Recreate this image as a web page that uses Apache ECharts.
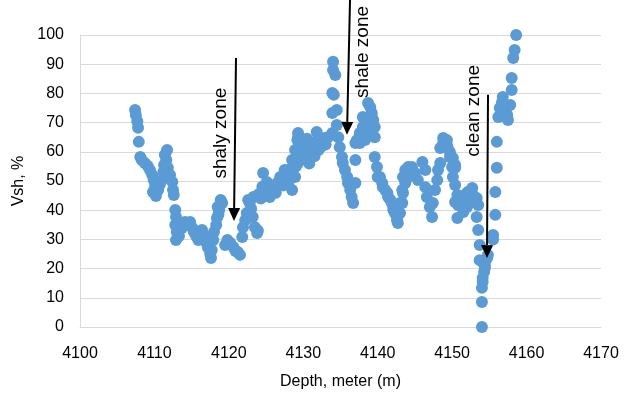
<!DOCTYPE html>
<html>
<head>
<meta charset="utf-8">
<script src="https://cdn.jsdelivr.net/npm/echarts@6/dist/echarts.min.js"></script>
<style>
  html, body { margin: 0; padding: 0; background: #fff; }
  #chart { width: 627px; height: 396px; }
</style>
</head>
<body>
<div id="chart"></div>
<script>
// depth (m) and Vsh (%)
const depth = [
  4107.4, 4107.5, 4107.7, 4107.8, 4107.9, 4108.1, 4108.3, 4108.7, 4109.1, 4109.4,
  4109.7, 4109.9, 4110.1, 4109.8, 4110.2, 4110.5, 4110.7, 4111.0, 4111.2, 4111.3,
  4111.4, 4111.7, 4111.6, 4111.8, 4112.1, 4112.4, 4112.5, 4112.6,
  4112.8, 4112.9, 4112.8, 4113.0, 4112.9, 4113.3, 4113.7, 4114.1, 4114.5, 4114.8,
  4115.1, 4115.3, 4115.6, 4115.9, 4116.1, 4116.4, 4116.7, 4116.9, 4117.2, 4117.5,
  4117.6, 4117.7, 4117.9, 4118.0, 4118.3, 4118.4, 4118.7, 4118.8, 4118.9, 4119.1,
  4118.6, 4118.5,
  4119.8, 4119.5, 4120.2, 4120.6, 4121.2, 4121.5, 4120.9, 4121.8, 4121.9, 4122.2,
  4122.4, 4122.8, 4122.6, 4123.2, 4123.5, 4123.8, 4123.9, 4123.0, 4123.3, 4124.5,
  4124.6, 4125.1, 4125.8, 4126.5, 4126.9, 4127.5, 4127.9, 4128.5, 4128.9, 4129.2,
  4129.3, 4124.0, 4125.0, 4126.0, 4127.0, 4124.3, 4125.5, 4126.3, 4127.3, 4128.2,
  4127.5, 4128.0, 4128.5, 4128.9, 4129.3, 4129.2, 4129.6, 4129.3, 4129.8, 4130.2,
  4130.6, 4131.2, 4131.8, 4132.0, 4132.5, 4132.9, 4133.3, 4133.9, 4130.0, 4130.8,
  4131.5, 4132.0, 4129.0, 4128.2, 4130.5, 4131.0, 4132.3, 4133.0, 4130.3, 4131.3,
  4134.0, 4134.0, 4134.3, 4133.9, 4134.1, 4134.5, 4133.9, 4134.5, 4134.7, 4134.9,
  4135.2, 4135.3, 4135.6, 4135.9, 4136.0, 4136.3, 4136.5, 4136.7, 4137.0, 4137.0,
  4137.2, 4137.6, 4138.0, 4138.6, 4139.0, 4139.2, 4139.4, 4139.6, 4139.6, 4139.0,
  4138.3, 4137.6, 4137.0, 4138.7, 4139.2, 4138.3, 4138.0,
  4139.6, 4139.9, 4140.3, 4140.7, 4141.3, 4141.7, 4142.1, 4142.3, 4142.6, 4142.7,
  4143.0, 4143.3, 4143.4, 4143.7, 4143.9, 4144.1, 4140.0, 4140.6, 4141.0, 4141.4,
  4141.9, 4142.1, 4142.6, 4143.0, 4143.3, 4143.4, 4143.7, 4144.1, 4144.6, 4145.0,
  4145.4, 4146.0, 4146.4, 4146.4, 4146.6, 4147.0, 4147.3, 4147.4, 4147.7, 4148.0,
  4148.1, 4148.4, 4148.4, 4148.8, 4149.3, 4149.4, 4149.7, 4150.0, 4150.1,
  4148.8, 4149.3, 4149.7, 4150.1, 4150.4, 4150.4, 4150.4, 4150.7, 4150.4, 4150.8,
  4150.7, 4151.3, 4151.7, 4152.1, 4152.7, 4152.8, 4152.4, 4152.0, 4151.5, 4153.3,
  4153.5, 4153.3, 4153.5, 4153.7, 4153.7, 4154.1, 4154.4, 4154.3, 4154.1, 4154.0,
  4154.0, 4154.0, 4154.8, 4154.7, 4154.4, 4154.1, 4155.5, 4155.5, 4155.8, 4155.8,
  4156.0, 4156.0, 4156.2, 4156.4, 4156.7, 4156.8, 4157.4, 4157.5, 4157.8, 4157.2,
  4157.0, 4158.0, 4158.0, 4158.2, 4158.4, 4158.6
];
const vsh = [
  74.3, 72.6, 70.5, 68.2, 63.4, 58.2, 57.2, 56.2, 55.1, 53.8,
  52.1, 50.3, 48.3, 46.2, 44.9, 46.9, 48.6, 50.3, 53.1, 55.5,
  58.9, 60.6, 57.2, 54.5, 52.1, 49.7, 46.9, 45.2,
  40.1, 37.7, 34.9, 32.5, 29.8, 31.2, 33.9, 36.0, 34.9, 36.0,
  33.9, 32.5, 31.2, 29.8, 32.5, 33.2, 31.2, 29.1, 27.1, 25.0,
  23.6, 26.4, 29.8, 32.5, 34.9, 37.3, 40.1, 41.8, 43.5, 42.5,
  38.5, 41.1,
  29.8, 28.1, 28.8, 27.4, 25.7, 24.7, 26.0, 30.8, 34.2, 36.6,
  39.0, 42.5, 43.5, 37.7, 34.2, 32.2, 33.0, 40.5, 44.5, 48.0,
  52.7, 49.7, 48.0, 49.3, 51.4, 52.7, 53.8, 57.2, 60.6, 64.0,
  66.4, 45.5, 46.5, 47.0, 50.0, 44.0, 44.5, 46.0, 48.5, 51.0,
  53.8, 49.3, 46.9, 51.4, 56.2, 60.6, 58.2, 65.0, 64.0, 61.6,
  60.6, 63.0, 66.8, 64.0, 63.4, 64.7, 65.0, 66.4, 57.5, 56.0,
  58.5, 60.5, 55.0, 52.0, 64.5, 61.0, 61.5, 62.5, 59.5, 60.0,
  90.8, 88.0, 86.3, 80.1, 79.5, 74.3, 73.3, 69.2, 65.0, 61.6,
  58.2, 56.2, 53.8, 51.4, 49.3, 46.9, 44.5, 42.5, 57.2, 49.3,
  64.0, 66.4, 68.5, 70.9, 75.3, 73.3, 70.9, 68.5, 65.0, 66.4,
  64.0, 63.0, 63.0, 76.7, 71.9, 68.5, 71.9,
  58.2, 54.8, 51.4, 47.9, 45.9, 43.5, 41.1, 39.0, 36.6, 35.6,
  39.0, 42.5, 45.9, 49.3, 52.7, 54.8, 51.4, 49.3, 46.9, 44.5,
  42.5, 40.1, 37.7, 42.5, 46.9, 51.4, 53.8, 51.4, 54.8, 52.7,
  50.3, 56.5, 53.8, 47.9, 44.5, 41.1, 37.7, 42.5, 46.9, 50.3,
  53.8, 56.2, 61.3, 63.0, 64.0, 61.3, 58.2, 54.8, 51.4,
  64.7, 62.3, 59.9, 57.9, 55.5, 54.5, 48.6, 45.2, 42.8, 41.8,
  37.3, 44.2, 45.2, 46.2, 47.6, 45.2, 42.8, 41.1, 39.4, 44.2,
  41.8, 37.7, 33.2, 28.1, 22.9, 22.3, 21.2, 18.8, 16.8, 13.4,
  8.6, 0.0, 24.7, 23.6, 20.2, 15.4, 31.5, 30.0, 38.4, 46.2,
  54.5, 63.4, 71.9, 75.0, 77.0, 78.8, 72.6, 70.9, 76.0, 74.5,
  73.0, 81.2, 85.3, 92.1, 94.9, 100.0
];

// annotations: arrow top / tip and label centre, in data units
const zoneNames = ["shaly zone", "shale zone", "clean zone"];
const arrowTop = [[4120.96, 92.1], [4136.28, 112.0], [4154.82, 79.5]];
const arrowTip = [[4120.69, 36.3], [4135.87, 65.8], [4154.68, 23.6]];
const labelAt = [[4118.9, 66.4], [4138.0, 94.2], [4152.9, 74.0]];

const points = depth.map((d, i) => [d, vsh[i]]);
const font = "Liberation Sans";
const chart = echarts.init(document.getElementById("chart"), null, { renderer: "canvas" });

chart.setOption({
    animation: false,
    backgroundColor: "#fff",
    grid: { left: 80, right: 26, top: 35, bottom: 69 },
    xAxis: {
        type: "value",
        min: 4100,
        max: 4170,
        interval: 10,
        name: "Depth, meter (m)",
        nameLocation: "middle",
        nameGap: 47,
        nameTextStyle: { fontFamily: font, fontSize: 16, color: "#000" },
        axisLine: { show: true, lineStyle: { color: "#D9D9D9", width: 1 } },
        axisTick: { show: false },
        splitLine: { show: false },
        axisLabel: {
            fontFamily: font, fontSize: 16, color: "#000", margin: 19,
            formatter: (v) => String(v),
        },
    },
    yAxis: {
        type: "value",
        min: 0,
        max: 100,
        interval: 10,
        name: "Vsh, %",
        nameLocation: "middle",
        nameGap: 52,
        nameTextStyle: { fontFamily: font, fontSize: 16, color: "#000" },
        axisLine: { show: true, lineStyle: { color: "#D9D9D9", width: 1 } },
        axisTick: { show: false },
        splitLine: { show: true, lineStyle: { color: "#D9D9D9", width: 1 } },
        axisLabel: { fontFamily: font, fontSize: 16, color: "#000", margin: 16 },
    },
    series: [
        {
            type: "scatter",
            data: points,
            symbol: "circle",
            symbolSize: 12,
            itemStyle: { color: "#5B9BD5", opacity: 1 },
        },
    ],
});

// arrows + rotated labels, placed through the axes
const graphics = [];
zoneNames.forEach((name, i) => {
    const p0 = chart.convertToPixel({ gridIndex: 0 }, arrowTop[i]);
    const p1 = chart.convertToPixel({ gridIndex: 0 }, arrowTip[i]);
    const dx = p1[0] - p0[0];
    const dy = p1[1] - p0[1];
    const len = Math.sqrt(dx * dx + dy * dy);
    const ux = dx / len, uy = dy / len;
    const head = 13, half = 6;
    const bx = p1[0] - ux * head, by = p1[1] - uy * head;
    graphics.push({
        type: "line",
        shape: { x1: p0[0], y1: p0[1], x2: bx, y2: by },
        style: { stroke: "#000", lineWidth: 2 },
        z: 100,
    });
    graphics.push({
        type: "polygon",
        shape: { points: [[p1[0], p1[1]], [bx - uy * half, by + ux * half], [bx + uy * half, by - ux * half]] },
        style: { fill: "#000" },
        z: 100,
    });
    const c = chart.convertToPixel({ gridIndex: 0 }, labelAt[i]);
    graphics.push({
        type: "text",
        x: c[0],
        y: c[1],
        rotation: Math.PI / 2,
        style: {
            text: name,
            fontFamily: font,
            fontSize: 19,
            fill: "#000",
            align: "center",
            verticalAlign: "middle",
        },
        z: 100,
    });
});
chart.setOption({ graphic: graphics });
</script>
</body>
</html>
